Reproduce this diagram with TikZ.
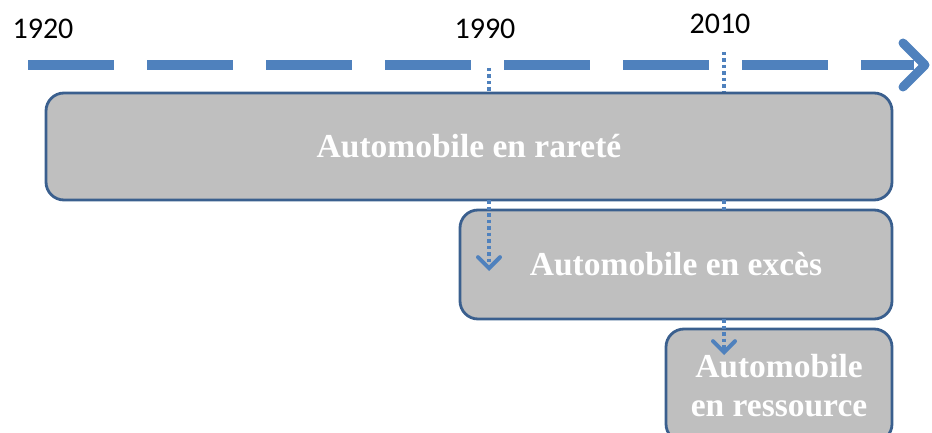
\documentclass[tikz,border=0pt]{standalone}
\usepackage{fontspec}
\setmainfont{Liberation Serif}
\newfontfamily\yearfont{Carlito}
\usetikzlibrary{arrows.meta}
\definecolor{tlblue}{HTML}{4F81BD}
\definecolor{bordblue}{HTML}{3A5F8E}
\definecolor{boxgray}{HTML}{BFBFBF}
\begin{document}
\begin{tikzpicture}[x=1pt,y=1pt,
  period/.style={draw=bordblue, line width=2.8pt, fill=boxgray, rounded corners=18pt,
    text=white, font=\fontsize{33.5}{39}\selectfont\bfseries, align=center, inner sep=0pt},
  year/.style={font=\yearfont\fontsize{30}{36}\selectfont, text=black, inner sep=0pt},
  timeline/.style={draw=tlblue, line width=10pt, dash pattern=on 86pt off 33pt},
  tlhead/.style={draw=tlblue, line width=9pt, line cap=round, line join=round},
  dotline/.style={draw=tlblue, line width=3.5pt, dash pattern=on 3.5pt off 3pt},
  dotarrow/.style={dotline, -{Straight Barb[length=11pt,width=22pt,line width=4pt,line cap=round]}}
]
\clip (0,0) rectangle (932,432);
\useasboundingbox (0,0) rectangle (932,432);

% timeline
\coordinate (tlstart) at (28,367);
\coordinate (tlend) at (914,367);
\coordinate (tip) at (925,367);
\coordinate (armtop) at (903,389);
\coordinate (armbot) at (903,345);
\draw[timeline] (tlstart) -- (tlend);
\draw[tlhead] (armtop) -- (tip) -- (armbot);

% years
\node[year] (y1920) at (43,403) {1920};
\node[year] (y1990) at (485,403) {1990};
\node[year] (y2010) at (720,408) {2010};

% dotted markers
\coordinate (m1990top) at (489,364);
\coordinate (m2010top) at (724,380);
\coordinate (m1990b) at (489,339);
\coordinate (m2010b) at (724,339);
\coordinate (m1990c) at (489,232);
\coordinate (m1990end) at (489,161);
\coordinate (m2010c) at (724,232);
\coordinate (m2010d) at (724,222);
\coordinate (m2010e) at (724,113);
\coordinate (m2010end) at (724,77);

\draw[dotline] (m1990top) -- (m1990b);
\draw[dotline] (m2010top) -- (m2010b);

% period boxes
\node[period, minimum width=846pt, minimum height=107pt] (rarete) at (469,285.5) {Automobile en raret\'e};

\node[period, minimum width=432pt, minimum height=109pt] (exces) at (676,167.5) {Automobile en exc\`es};
\draw[dotline] (m2010c) -- (m2010d);
\draw[dotarrow] (m1990c) -- (m1990end);

\node[period, minimum width=226pt, minimum height=113pt] (ressource) at (779,46.5) {Automobile\\en ressource};
\draw[dotarrow] (m2010e) -- (m2010end);
\end{tikzpicture}
\end{document}
